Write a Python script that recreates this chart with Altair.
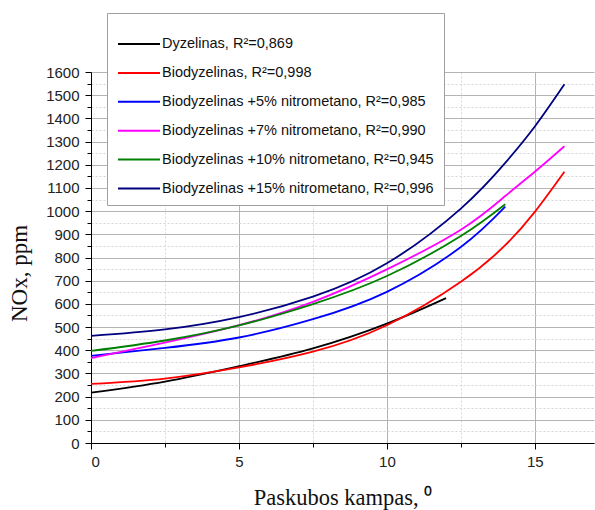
import altair as alt
import pandas as pd

# ---- data ----
names = [
    "Dyzelinas, R²=0,869",
    "Biodyzelinas, R²=0,998",
    "Biodyzelinas +5% nitrometano, R²=0,985",
    "Biodyzelinas +7% nitrometano, R²=0,990",
    "Biodyzelinas +10% nitrometano, R²=0,945",
    "Biodyzelinas +15% nitrometano, R²=0,996",
]
colors = ["#000000", "#ff0000", "#0000ff", "#ff00ff", "#008000", "#000080"]

x_dyz = [0, 2.5, 5, 7.5, 10, 12]
y_dyz = [217, 265, 331, 408, 515, 625]

x_bio = [0, 2.5, 5, 7.5, 10, 12.5, 14, 15, 16]
y_bio = [255, 278, 326, 394, 508, 695, 853, 997, 1170]

x_n5 = [0, 2.5, 5, 7.5, 10, 12.5, 14]
y_n5 = [376, 410, 455, 534, 652, 845, 1019]

x_n7 = [0, 2.5, 5, 7.5, 10, 12.5, 14, 15, 16]
y_n7 = [366, 433, 508, 609, 749, 920, 1065, 1170, 1280]

x_n10 = [0, 2.5, 5, 7.5, 10, 12.5, 14]
y_n10 = [397, 442, 507, 599, 720, 893, 1030]

x_n15 = [0, 2.5, 5, 7.5, 10, 12.5, 14, 15, 16]
y_n15 = [462, 490, 543, 631, 775, 1011, 1208, 1365, 1547]

x_ticks = [0, 2.5, 5, 7.5, 10, 12.5, 15]
y_ticks = list(range(0, 1601, 50))

series = [
    (names[0], x_dyz, y_dyz),
    (names[1], x_bio, y_bio),
    (names[2], x_n5, y_n5),
    (names[3], x_n7, y_n7),
    (names[4], x_n10, y_n10),
    (names[5], x_n15, y_n15),
]
rows = []
for name, xs, ys in series:
    for xv, yv in zip(xs, ys):
        rows.append({"series": name, "x": xv, "y": yv})
df = pd.DataFrame(rows)

major_y = "datum.value % 100 === 0"
major_x = "datum.value % 5 === 0"

x_axis = alt.Axis(
    values=x_ticks,
    labelExpr=f"{major_x} ? datum.label : ''",
    tickSize={"condition": {"test": major_x, "value": 6}, "value": 4},
    gridColor={"condition": {"test": major_x, "value": "#b4b4b4"}, "value": "#d6d6d6"},
    gridDash={"condition": {"test": major_x, "value": []}, "value": [2, 2]},
    grid=True,
    domainColor="#000000",
    tickColor="#000000",
    labelFont="Liberation Sans",
    labelFontSize=15,
    labelColor="#222222",
    labelPadding=5,
    title="Paskubos kampas, ⁰",
    titleFont="Liberation Serif",
    titleFontSize=22.5,
    titleFontWeight="normal",
    titleColor="#111111",
    titleBaseline="alphabetic",
    titleY=61,
)

y_axis = alt.Axis(
    values=y_ticks,
    format="d",
    labelExpr=f"{major_y} ? datum.label : ''",
    tickSize={"condition": {"test": major_y, "value": 6}, "value": 4},
    gridColor={"condition": {"test": major_y, "value": "#b4b4b4"}, "value": "#d6d6d6"},
    gridDash={"condition": {"test": major_y, "value": []}, "value": [2, 2]},
    grid=True,
    domainColor="#000000",
    tickColor="#000000",
    labelFont="Liberation Sans",
    labelFontSize=15,
    labelColor="#222222",
    labelPadding=6,
    title="NOx, ppm",
    titleFont="Liberation Serif",
    titleFontSize=23,
    titleFontWeight="normal",
    titleColor="#111111",
    titleBaseline="middle",
    titleX=-72,
    titleY=201,
)

legend = alt.Legend(
    orient="none",
    legendX=16,
    legendY=-59,
    direction="vertical",
    title=" ",
    titleFontSize=12,
    titlePadding=1,
    padding=10,
    fillColor="white",
    strokeColor="#a0a0a0",
    symbolType="M-1,0H5",
    symbolSize=196,
    symbolStrokeWidth=2,
    labelFont="Liberation Sans",
    labelFontSize=14.5,
    labelColor="#111111",
    labelOffset=29,
    rowPadding=13.9,
    labelLimit=400,
)

chart = (
    alt.Chart(df)
    .mark_line(interpolate="natural", strokeWidth=1.8)
    .encode(
        x=alt.X("x:Q", scale=alt.Scale(domain=[0, 17], nice=False), axis=x_axis),
        y=alt.Y("y:Q", scale=alt.Scale(domain=[0, 1600], nice=False), axis=y_axis),
        color=alt.Color("series:N", scale=alt.Scale(domain=names, range=colors), legend=legend),
    )
    .properties(
        width=503,
        height=371,
        padding={"left": 91, "top": 72, "right": 1, "bottom": 67},
        autosize=alt.AutoSizeParams(type="none"),
        background="white",
    )
    .configure_view(stroke=None)
)

chart.save("out.html", embed_options={"renderer": "svg", "actions": False})
